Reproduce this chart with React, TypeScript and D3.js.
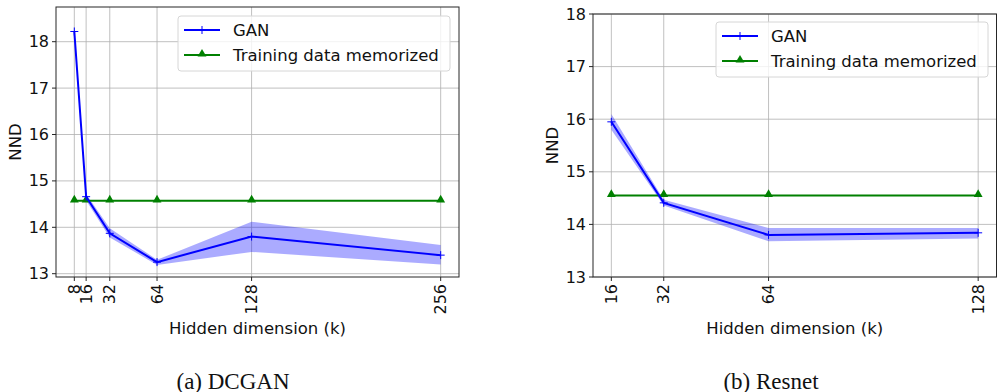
import * as d3 from "d3";

const dcganK = [8, 16, 32, 64, 128, 256];
const dcganNND = [18.22, 14.66, 13.87, 13.25, 13.8, 13.4];
const dcganLow = [18.17, 14.58, 13.78, 13.19, 13.47, 13.2];
const dcganHigh = [18.27, 14.72, 13.98, 13.3, 14.12, 13.62];
const dcganMem = [14.57, 14.57, 14.57, 14.57, 14.57, 14.57];
const dcganYTicks = [13, 14, 15, 16, 17, 18];

const resnetK = [16, 32, 64, 128];
const resnetNND = [15.95, 14.41, 13.8, 13.84];
const resnetLow = [15.8, 14.36, 13.68, 13.73];
const resnetHigh = [16.1, 14.47, 13.93, 13.93];
const resnetMem = [14.55, 14.55, 14.55, 14.55];
const resnetYTicks = [13, 14, 15, 16, 17, 18];

const legendLabels = ["GAN", "Training data memorized"];
const FONT = "DejaVu Sans, sans-serif";

interface PanelProps {
  id: string;
  k: number[];
  nnd: number[];
  low: number[];
  high: number[];
  mem: number[];
  yTicks: number[];
  box: { left: number; right: number; top: number; bottom: number };
  yDomain: [number, number];
  legend: { x: number; y: number; w: number; h: number };
  caption: string;
  captionX: number;
  ylabelX: number;
}

function Panel({ id, k, nnd, low, high, mem, yTicks, box, yDomain, legend, caption, captionX, ylabelX }: PanelProps) {
  const pad = (d3.max(k)! - d3.min(k)!) * 0.05;
  const x = d3.scaleLinear().domain([d3.min(k)! - pad, d3.max(k)! + pad]).range([box.left, box.right]);
  const y = d3.scaleLinear().domain(yDomain).range([box.bottom, box.top]);
  const idx = k.map((_, i) => i);

  const line = d3
    .line<number>()
    .x((i) => x(k[i]))
    .y((i) => y(nnd[i]));
  const memLine = d3
    .line<number>()
    .x((i) => x(k[i]))
    .y((i) => y(mem[i]));
  const band = d3
    .area<number>()
    .x((i) => x(k[i]))
    .y0((i) => y(low[i]))
    .y1((i) => y(high[i]));

  const tri = d3.symbol(d3.symbolTriangle, 34)()!;
  const cx = (box.left + box.right) / 2;
  const cy = (box.top + box.bottom) / 2;

  return (
    <g fontFamily={FONT}>
      <defs>
        <clipPath id={`clip-${id}`}>
          <rect x={box.left} y={box.top} width={box.right - box.left} height={box.bottom - box.top} />
        </clipPath>
      </defs>
      {/* grid */}
      {k.map((v) => (
        <line key={`gx${v}`} x1={x(v)} x2={x(v)} y1={box.top} y2={box.bottom} stroke="#b0b0b0" strokeWidth={0.8} />
      ))}
      {yTicks.map((v) => (
        <line key={`gy${v}`} x1={box.left} x2={box.right} y1={y(v)} y2={y(v)} stroke="#b0b0b0" strokeWidth={0.8} />
      ))}
      <g clipPath={`url(#clip-${id})`}>
        <path d={band(idx)!} fill="blue" fillOpacity={0.33} />
        <path d={memLine(idx)!} fill="none" stroke="green" strokeWidth={2} />
        {idx.map((i) => (
          <path key={`t${i}`} d={tri} transform={`translate(${x(k[i])},${y(mem[i]) - 1})`} fill="green" />
        ))}
        <path d={line(idx)!} fill="none" stroke="blue" strokeWidth={2} />
        {idx.map((i) => (
          <path
            key={`p${i}`}
            d={`M${x(k[i]) - 4},${y(nnd[i])}h8M${x(k[i])},${y(nnd[i]) - 4}v8`}
            stroke="blue"
            strokeWidth={1}
          />
        ))}
      </g>
      <rect x={box.left} y={box.top} width={box.right - box.left} height={box.bottom - box.top} fill="none" stroke="#262626" strokeWidth={1} />
      {/* y ticks */}
      {yTicks.map((v) => (
        <g key={`yt${v}`}>
          <line x1={box.left - 4} x2={box.left} y1={y(v)} y2={y(v)} stroke="#262626" />
          <text x={box.left - 7} y={y(v)} textAnchor="end" dominantBaseline="central" fontSize={16} fill="#111">
            {v}
          </text>
        </g>
      ))}
      {/* x ticks */}
      {k.map((v) => (
        <g key={`xt${v}`}>
          <line x1={x(v)} x2={x(v)} y1={box.bottom} y2={box.bottom + 4} stroke="#262626" />
          <text
            transform={`translate(${x(v)},${box.bottom + 7}) rotate(-90)`}
            textAnchor="end"
            dominantBaseline="central"
            fontSize={16}
            fill="#111"
          >
            {v}
          </text>
        </g>
      ))}
      <text x={cx} y={328} textAnchor="middle" dominantBaseline="central" fontSize={16.5} fill="#111">
        Hidden dimension (k)
      </text>
      <text
        transform={`translate(${ylabelX},${cy}) rotate(-90)`}
        textAnchor="middle"
        dominantBaseline="central"
        fontSize={16.5}
        fill="#111"
      >
        NND
      </text>
      {/* legend */}
      <rect x={legend.x} y={legend.y} width={legend.w} height={legend.h} rx={3} fill="white" fillOpacity={0.8} stroke="#d6d6d6" />
      {legendLabels.map((lab, i) => {
        const ly = legend.y + 14 + i * 25;
        const lx = legend.x + 6;
        return (
          <g key={lab}>
            <line x1={lx} x2={lx + 36} y1={ly} y2={ly} stroke={i === 0 ? "blue" : "green"} strokeWidth={2} />
            {i === 0 ? (
              <path d={`M${lx + 14},${ly}h8M${lx + 18},${ly - 4}v8`} stroke="blue" strokeWidth={1} />
            ) : (
              <path d={tri} transform={`translate(${lx + 18},${ly - 1})`} fill="green" />
            )}
            <text x={lx + 49} y={ly} dominantBaseline="central" fontSize={16.5} fill="#111">
              {lab}
            </text>
          </g>
        );
      })}
      <text x={captionX} y={381} textAnchor="middle" dominantBaseline="central" fontSize={23} fontFamily="Liberation Serif, serif" fill="#111">
        {caption}
      </text>
    </g>
  );
}

export default function App() {
  return (
    <svg width={998} height={392} style={{ position: "absolute", left: 0, top: 0, background: "white" }}>
      <Panel
        id="a"
        k={dcganK}
        nnd={dcganNND}
        low={dcganLow}
        high={dcganHigh}
        mem={dcganMem}
        yTicks={dcganYTicks}
        box={{ left: 56, right: 459, top: 7, bottom: 277 }}
        yDomain={[13 - 3.3 / 46.4, 18 + 34.7 / 46.4]}
        legend={{ x: 178, y: 16, w: 272, h: 55 }}
        caption="(a) DCGAN"
        captionX={233}
        ylabelX={15}
      />
      <Panel
        id="b"
        k={resnetK}
        nnd={resnetNND}
        low={resnetLow}
        high={resnetHigh}
        mem={resnetMem}
        yTicks={resnetYTicks}
        box={{ left: 593, right: 996.5, top: 14, bottom: 277 }}
        yDomain={[13, 18]}
        legend={{ x: 716, y: 22, w: 272, h: 55 }}
        caption="(b) Resnet"
        captionX={771}
        ylabelX={552}
      />
    </svg>
  );
}
